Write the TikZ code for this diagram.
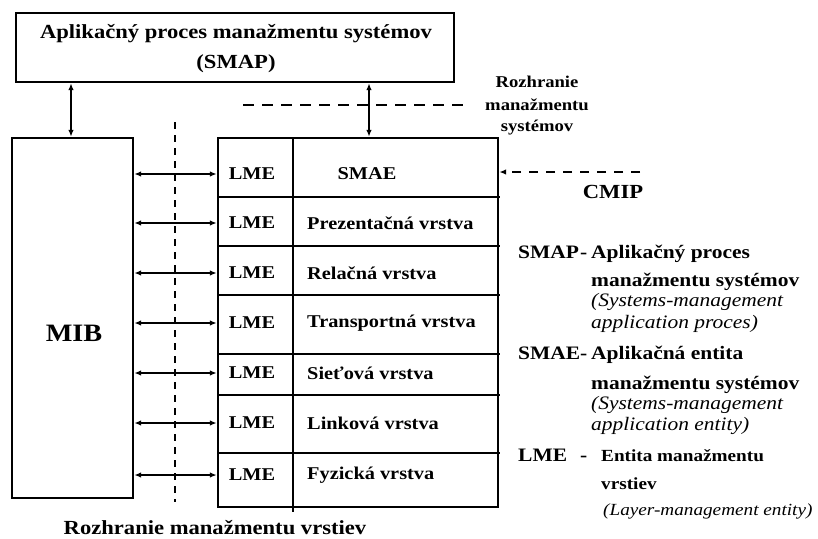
\documentclass[tikz,border=0pt]{standalone}
\usepackage{fontspec}
\setmainfont{Liberation Serif}[FakeStretch=1.13]
\usetikzlibrary{arrows.meta}
\newcommand{\fs}[1]{\fontsize{#1}{#1}\selectfont}
\begin{document}
\begin{tikzpicture}[x=1pt,y=-1pt,
  box/.style={draw, line width=2.4pt, inner sep=0pt},
  rule/.style={line width=2.4pt},
  link/.style={line width=1.4pt, {Latex[length=7pt,width=5.5pt]}-{Latex[length=7pt,width=5.5pt]}},
  guide/.style={line width=1.4pt, dash pattern=on 11pt off 8pt},
  lbl/.style={font=\bfseries\fs{18}, inner sep=0pt},
  lme/.style={lbl},
  layer/.style={lbl, anchor=west},
  key/.style={font=\bfseries\fs{19}, inner sep=0pt, anchor=base west},
  desc/.style={font=\bfseries\fs{19}, inner sep=0pt, anchor=base west},
  note/.style={font=\itshape\fs{19}, inner sep=0pt, anchor=base west}]
\useasboundingbox[fill=white] (0,0) rectangle (818,538);

% management process box
\node[box, minimum width=438pt, minimum height=69pt] (smap) at (235,47.5) {};
\node[font=\bfseries\fs{20}, align=center, inner sep=0pt] (smaptext) at (236,48.5)
  {Aplikačný proces manažmentu systémov\\[10pt](SMAP)};

% management information base
\node[box, minimum width=121pt, minimum height=360pt] (mib) at (72.5,318) {};
\node[font=\bfseries\fs{25}, inner sep=0pt] (mibtext) at (74,333) {MIB};

% layer stack
\node[box, minimum width=280pt, minimum height=369pt] (stack) at (358,322.5) {};
\draw[rule] (293,138) -- (293,512);
\foreach \y in {197,246,295,354,395,453}
  \draw[rule] (218,\y) -- (500,\y);

\node[lme] (lme1) at (252,174) {LME};
\node[lme] (lme2) at (252,223) {LME};
\node[lme] (lme3) at (252,273) {LME};
\node[lme] (lme4) at (252,323) {LME};
\node[lme] (lme5) at (252,373) {LME};
\node[lme] (lme6) at (252,423) {LME};
\node[lme] (lme7) at (252,475) {LME};

\node[lbl] (smae) at (367,174) {SMAE};
\node[layer] (l6) at (307,223) {Prezentačná vrstva};
\node[layer] (l5) at (307,273) {Relačná vrstva};
\node[layer] (l4) at (307,323) {Transportná vrstva};
\node[layer] (l3) at (307,373) {Sieťová vrstva};
\node[layer] (l2) at (307,423) {Linková vrstva};
\node[layer] (l1) at (307,475) {Fyzická vrstva};

% MIB <-> LME links
\foreach \n in {lme1,lme2,lme3,lme4,lme5,lme6,lme7}
  \draw[link] (mib.east |- \n) -- (stack.west |- \n);

% SMAP links
\draw[link] (smap.south -| 71,0) -- (mib.north -| 71,0);
\draw[link] (smap.south -| 369,0) -- (stack.north -| 369,0);

% interface boundaries
\coordinate (sysA) at (243,105);
\coordinate (sysB) at (468,105);
\draw[guide] (sysA) -- (sysB);
\coordinate (layA) at (175,122);
\coordinate (layB) at (175,502);
\draw[line width=1.4pt, dash pattern=on 7pt off 6pt] (layA) -- (layB);

\node[font=\bfseries\fs{16.5}, align=center, inner sep=0pt] (sysif) at (537,106)
  {Rozhranie\\[6pt]manažmentu\\[5pt]systémov};
\node[font=\bfseries\fs{20}, inner sep=0pt] (layif) at (215,528) {Rozhranie manažmentu vrstiev};

% CMIP
\coordinate (cmipA) at (640,172);
\draw[line width=1.4pt, dash pattern=on 9pt off 8pt, -{Latex[length=7pt,width=5.5pt]}]
  (cmipA) -- (stack.east |- cmipA);
\node[font=\bfseries\fs{20}, inner sep=0pt] (cmip) at (613,192) {CMIP};

% legend
\node[key] (k1) at (518,258) {SMAP};
\node[key] (d1) at (580,258) {-};
\node[desc] (k1a) at (591,258) {Aplikačný proces};
\node[desc] (k1b) at (591,286) {manažmentu systémov};
\node[note] (k1c) at (591,306) {(Systems-management};
\node[note] (k1d) at (591,328) {application proces)};

\node[key] (k2) at (518,359) {SMAE};
\node[key] (d2) at (580,359) {-};
\node[desc] (k2a) at (591,359) {Aplikačná entita};
\node[desc] (k2b) at (591,389) {manažmentu systémov};
\node[note] (k2c) at (591,409) {(Systems-management};
\node[note] (k2d) at (591,430) {application entity)};

\node[key] (k3) at (518,461) {LME};
\node[key] (d3) at (580,461) {-};
\node[desc, font=\bfseries\fs{17}] (k3a) at (601,461) {Entita manažmentu};
\node[desc, font=\bfseries\fs{17}] (k3b) at (601,489) {vrstiev};
\node[note, font=\itshape\fs{17}] (k3c) at (603,515) {(Layer-management entity)};
\end{tikzpicture}
\end{document}
